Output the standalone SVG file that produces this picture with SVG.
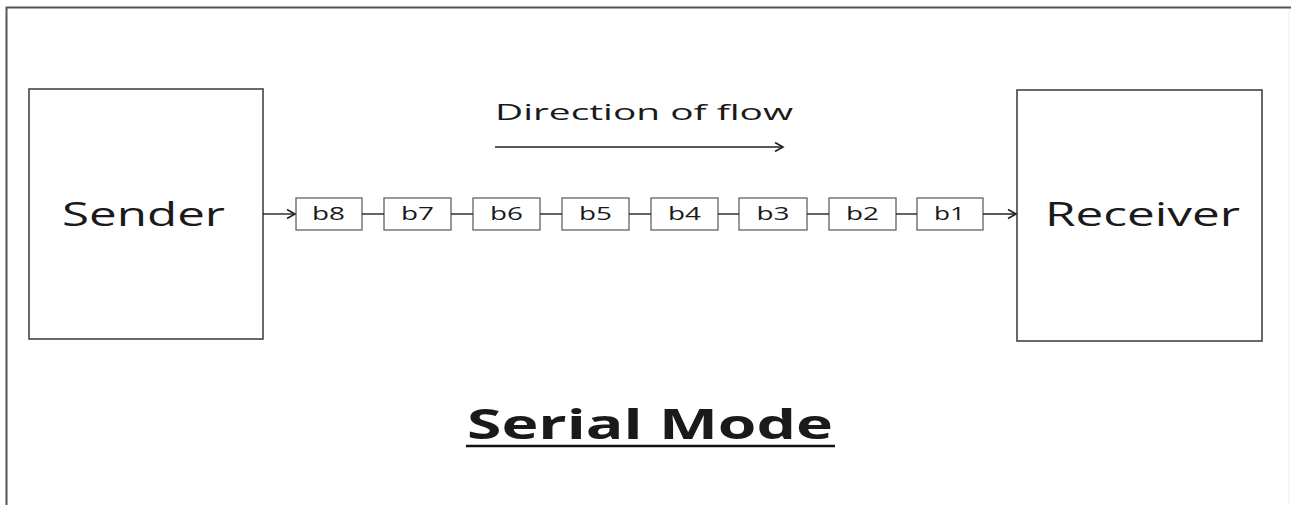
<svg xmlns="http://www.w3.org/2000/svg" width="1291" height="505" viewBox="0 0 1291 505">
<style>
.frame{fill:none;stroke:#555;stroke-width:2}
.big{fill:#fff;stroke:#444;stroke-width:1.6}
.bit{fill:#fff;stroke:#555;stroke-width:1.2}
.t{font-family:"Open Sans","DejaVu Sans",sans-serif;fill:#1a1a1a}
.bt{font-family:"Open Sans","DejaVu Sans",sans-serif;fill:#1a1a1a;font-size:19px}
.conn{stroke:#222;stroke-width:1.4;fill:none}
</style>
<defs>
<marker id="ah" markerWidth="12" markerHeight="12" refX="10" refY="6" orient="auto" markerUnits="userSpaceOnUse">
<path d="M2,1.5 L10,6 L2,10.5" fill="none" stroke="#222" stroke-width="1.6"/>
</marker>
</defs>
<rect width="1291" height="505" fill="#fff"/>
<path class="frame" d="M6.5,505 V7.5 H1291"/>
<line x1="1289" y1="10" x2="1289" y2="505" stroke="#eee" stroke-width="1"/>
<g id="sender">
<rect class="big" x="29" y="89" width="234" height="250"/>
<text class="t" x="62" y="226" font-size="32" textLength="163" lengthAdjust="spacingAndGlyphs">Sender</text>
</g>
<g id="receiver">
<rect class="big" x="1017" y="90" width="245" height="251"/>
<text class="t" x="1045" y="226" font-size="32" textLength="195" lengthAdjust="spacingAndGlyphs">Receiver</text>
</g>
<g id="b8"><rect class="bit" x="296" y="198" width="66" height="32"/><text class="bt" x="312" y="219.5" textLength="33" lengthAdjust="spacingAndGlyphs">b8</text></g>
<g id="b7"><rect class="bit" x="384" y="198" width="67" height="32"/><text class="bt" x="401" y="219.5" textLength="33" lengthAdjust="spacingAndGlyphs">b7</text></g>
<g id="b6"><rect class="bit" x="473" y="198" width="67" height="32"/><text class="bt" x="490" y="219.5" textLength="33" lengthAdjust="spacingAndGlyphs">b6</text></g>
<g id="b5"><rect class="bit" x="562" y="198" width="67" height="32"/><text class="bt" x="579" y="219.5" textLength="33" lengthAdjust="spacingAndGlyphs">b5</text></g>
<g id="b4"><rect class="bit" x="651" y="198" width="67" height="32"/><text class="bt" x="668" y="219.5" textLength="33" lengthAdjust="spacingAndGlyphs">b4</text></g>
<g id="b3"><rect class="bit" x="739" y="198" width="68" height="32"/><text class="bt" x="756.5" y="219.5" textLength="33" lengthAdjust="spacingAndGlyphs">b3</text></g>
<g id="b2"><rect class="bit" x="829" y="198" width="67" height="32"/><text class="bt" x="846" y="219.5" textLength="33" lengthAdjust="spacingAndGlyphs">b2</text></g>
<g id="b1"><rect class="bit" x="917" y="198" width="66" height="32"/><text class="bt" x="934" y="219.5" textLength="31" lengthAdjust="spacingAndGlyphs">b1</text></g>
<g id="connectors">
<line class="conn" x1="263" y1="214" x2="295" y2="214" marker-end="url(#ah)"/>
<line class="conn" x1="362" y1="214" x2="384" y2="214"/>
<line class="conn" x1="451" y1="214" x2="473" y2="214"/>
<line class="conn" x1="540" y1="214" x2="562" y2="214"/>
<line class="conn" x1="629" y1="214" x2="651" y2="214"/>
<line class="conn" x1="718" y1="214" x2="739" y2="214"/>
<line class="conn" x1="807" y1="214" x2="829" y2="214"/>
<line class="conn" x1="896" y1="214" x2="917" y2="214"/>
<line class="conn" x1="983" y1="214" x2="1016" y2="214" marker-end="url(#ah)"/>
<line class="conn" x1="495" y1="147" x2="783" y2="147" stroke-width="2" marker-end="url(#ah)"/>
</g>
<g id="direction">
<text class="t" x="495" y="120" font-size="22" textLength="298" lengthAdjust="spacingAndGlyphs">Direction of flow</text>
</g>
<g id="title">
<text class="t" x="467" y="439" font-size="41" font-weight="bold" fill="#000" textLength="366" lengthAdjust="spacingAndGlyphs">Serial Mode</text>
<line x1="466" y1="446" x2="835" y2="446" stroke="#111" stroke-width="2.5"/>
</g>
</svg>
